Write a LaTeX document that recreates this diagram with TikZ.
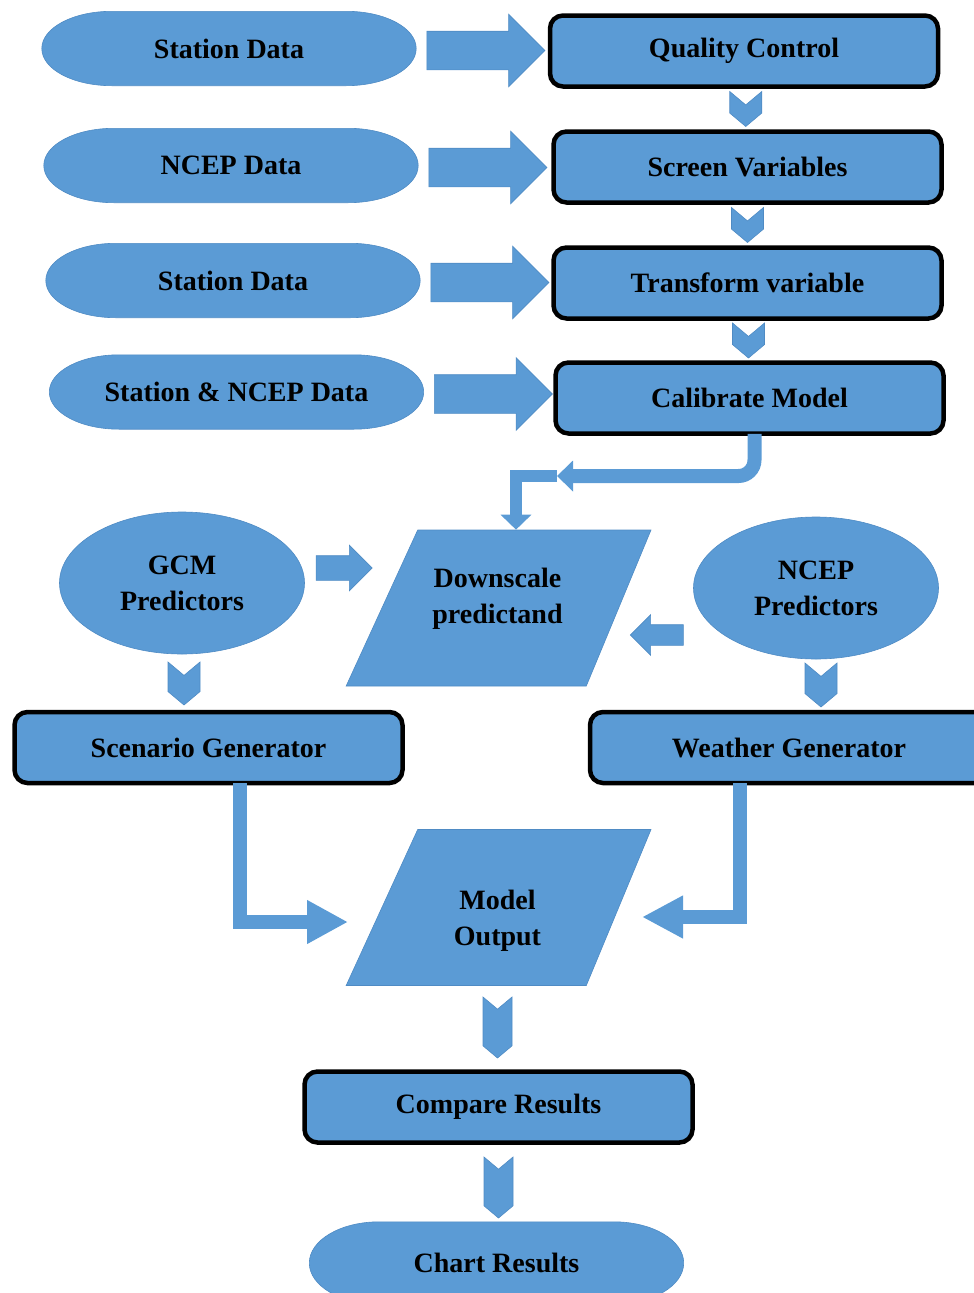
\documentclass[tikz,border=0pt]{standalone}
\usepackage{fontspec}
\setmainfont{Liberation Serif}
\usetikzlibrary{calc,positioning,shapes.geometric,shapes.arrows,shapes.symbols,arrows.meta,backgrounds}
\definecolor{boxblue}{HTML}{5B9BD5}
\definecolor{edgeblue}{HTML}{4F8BC4}

\tikzset{
  lbl/.style={font=\fontsize{28}{36}\selectfont\bfseries, text=black, align=center},
  procbox/.style={lbl, draw=black, line width=4.5pt, fill=boxblue, rounded corners=13pt,
    minimum width=388pt, minimum height=71pt},
  datacap/.style={lbl, minimum width=374pt, minimum height=74pt},
  dataoval/.style={lbl, ellipse, fill=boxblue, draw=edgeblue, line width=.6pt,
    minimum width=245pt, minimum height=142pt, inner sep=0pt},
  iobox/.style={trapezium, trapezium left angle=67, trapezium right angle=111,
    trapezium stretches=true, fill=boxblue, draw=edgeblue, line width=.6pt,
    minimum width=305pt, minimum height=156pt},
  bigarrow/.style={single arrow, fill=boxblue, draw=edgeblue, line width=.6pt,
    inner xsep=0pt, inner ysep=19pt, single arrow head extend=17pt, minimum height=118pt},
  chev/.style={signal, signal from=north, signal to=south, signal pointer angle=100,
    fill=boxblue, draw=edgeblue, line width=.6pt, inner xsep=16pt, inner ysep=0pt},
  flow/.style={draw=boxblue, line width=14pt},
}

\begin{document}
\begin{tikzpicture}[x=1pt,y=1pt]
  \useasboundingbox (0,0) rectangle (974,-1293);

  % input data
  \node (sd1) at (229,-48.5) [datacap] {Station Data};
  \node (ncepd) at (231,-165.5) [datacap] {NCEP Data};
  \node (sd2) at (233,-280.5) [datacap] {Station Data};
  \node (sncep) at (236.5,-392) [datacap] {Station \& NCEP Data};

  % calibration steps
  \node (qc) at (744,-51) [procbox] {Quality Control};
  \node (sv) at (747.5,-167) [procbox] {Screen Variables};
  \node (tv) at (747.5,-283) [procbox] {Transform variable};
  \node (cm) at (749.5,-398) [procbox] {Calibrate Model};

  \node (gcm) at (182,-583) [dataoval] {GCM\\Predictors};
  \node (nceppr) at (816,-588) [dataoval] {NCEP\\Predictors};
  \node (ds) at (502,-608) [iobox] {};
  \node (dstext) at ($(ds.center)+(-4.5,9)$) [lbl] {Downscale\\predictand};

  \node (sg) at (208.5,-747.5) [procbox] {Scenario Generator};
  \node (wg) at (789,-747.5) [procbox, minimum width=398pt] {Weather Generator};
  \node (mo) at (502,-907.5) [iobox] {};
  \node (motext) at ($(mo.center)+(-4.5,-13)$) [lbl] {Model\\Output};
  \node (cr) at (498.5,-1107) [procbox] {Compare Results};
  \node (chart) at (496.5,-1263) [datacap, minimum height=82pt] {Chart Results};

  % capsule outlines behind the data labels
  \begin{scope}[on background layer]
    \foreach \n in {sd1,ncepd,sd2,sncep,chart}
      \filldraw[fill=boxblue, draw=edgeblue, line width=.6pt]
        ($(\n.north west)+(70,0)$) -- ($(\n.north east)+(-70,0)$)
        .. controls ($(\n.north east)+(-31,0)$) and ($(\n.east)!.552!(\n.north east)$) .. (\n.east)
        .. controls ($(\n.east)!.552!(\n.south east)$) and ($(\n.south east)+(-31,0)$) .. ($(\n.south east)+(-70,0)$)
        -- ($(\n.south west)+(70,0)$)
        .. controls ($(\n.south west)+(31,0)$) and ($(\n.west)!.552!(\n.south west)$) .. (\n.west)
        .. controls ($(\n.west)!.552!(\n.north west)$) and ($(\n.north west)+(31,0)$) .. cycle;
  \end{scope}

  % block arrows into the steps
  \foreach \s in {sd1,ncepd,sd2,sncep}
    \node at ($(\s.east)+(60,-2)$) [bigarrow] {};
  \node (ga) at (338,-568) [bigarrow, inner ysep=12pt, single arrow head extend=10.5pt, minimum height=56pt] {};
  \node (na) at (662,-635) [bigarrow, inner ysep=10pt, single arrow head extend=10pt, minimum height=53pt, shape border rotate=180] {};

  % chevrons
  \foreach \a/\b in {qc/sv,sv/tv,tv/cm}
    \node at ($(\a.south)!.5!(\b.north)$) [chev, minimum height=35pt] {};
  \node at (184,-683.5) [chev, minimum height=43pt] {};
  \node at (821,-685) [chev, minimum height=44pt] {};
  \node at (497.5,-1027.5) [chev, minimum width=29pt, inner xsep=14.5pt, minimum height=61pt] {};
  \node at (498.5,-1187.5) [chev, minimum width=29pt, inner xsep=14.5pt, minimum height=61pt] {};

  % bent connectors
  \coordinate (cmout) at (557,-476);
  \coordinate (moleft) at (348,-922);
  \coordinate (moright) at (642,-917);
  \draw[flow, rounded corners=16pt, -{Triangle[width=30pt,length=16pt]}] ($(cm.south)+(5,2)$) |- (cmout);
  \draw[flow, line width=12pt, -{Triangle[width=30pt,length=15pt]}] (cmout) -| ($(ds.north)+(14,0)$);
  \draw[flow, -{Triangle[width=41pt,length=41pt]}] ($(sg.south)+(31.5,2)$) |- (moleft);
  \draw[flow, -{Triangle[width=40pt,length=41pt]}] ($(wg.south)+(-49,2)$) |- (moright);
\end{tikzpicture}
\end{document}
